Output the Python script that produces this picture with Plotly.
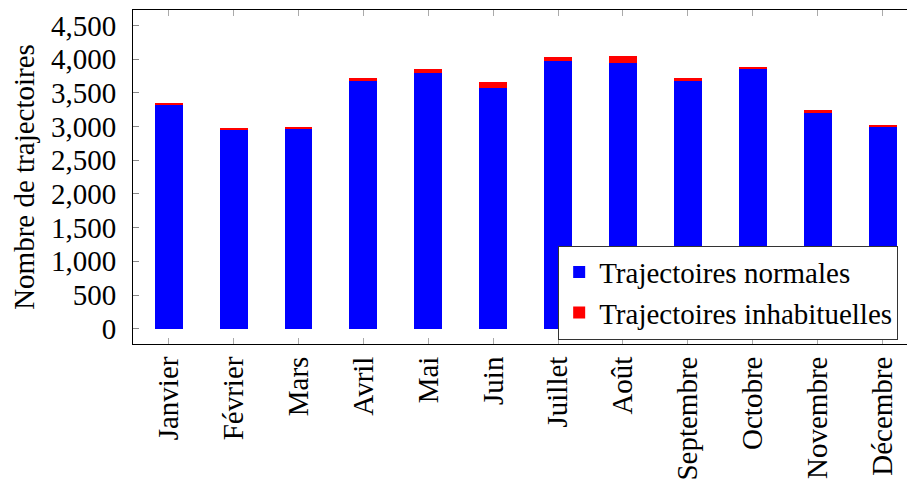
import plotly.graph_objects as go

months = ["Janvier", "Février", "Mars", "Avril", "Mai", "Juin", "Juillet",
          "Août", "Septembre", "Octobre", "Novembre", "Décembre"]
normales = [3315, 2950, 2960, 3680, 3790, 3580, 3975, 3945, 3675, 3850, 3200, 2990]
inhabituelles = [30, 25, 35, 40, 65, 80, 55, 105, 45, 35, 50, 30]
y_ticks = [0, 500, 1000, 1500, 2000, 2500, 3000, 3500, 4000, 4500]

FONT = "Liberation Serif"
FS = 29

fig = go.Figure()
fig.add_trace(go.Bar(x=months, y=normales, name="Trajectoires normales",
                     marker=dict(color="#0000ff", line=dict(width=0)), width=0.43))
fig.add_trace(go.Bar(x=months, y=inhabituelles, name="Trajectoires inhabituelles",
                     marker=dict(color="#ff0000", line=dict(width=0)), width=0.43))

fig.update_layout(
    barmode="stack",
    width=908, height=472,
    margin=dict(l=125, r=1, t=2, b=136, autoexpand=False),
    paper_bgcolor="white", plot_bgcolor="white",
    font=dict(family=FONT, size=FS, color="black"),
    legend=dict(x=0.5437, y=0.154, xanchor="left", yanchor="middle",
                bgcolor="white", bordercolor="#333333", borderwidth=1,
                font=dict(family=FONT, size=FS), tracegroupgap=0,
                traceorder="normal", itemwidth=30),
    xaxis=dict(range=[-0.55, 11.5], showgrid=False, showline=True, linecolor="black",
               linewidth=1, mirror="allticks", ticks="inside", ticklen=6,
               tickcolor="#aaaaaa", tickangle=-90, tickfont=dict(size=FS),
               ticklabelstandoff=0, automargin=False),
    yaxis=dict(range=[-227, 4731], tickvals=y_ticks, tickformat=",d",
               showgrid=False, zeroline=False, showline=True, linecolor="black",
               linewidth=1, mirror="allticks", ticks="inside", ticklen=6,
               tickcolor="#888888", tickfont=dict(size=FS), ticklabelstandoff=10,
               title=dict(text="Nombre de trajectoires", font=dict(size=FS), standoff=19),
               automargin=False),
)

fig.write_html("out.html")
